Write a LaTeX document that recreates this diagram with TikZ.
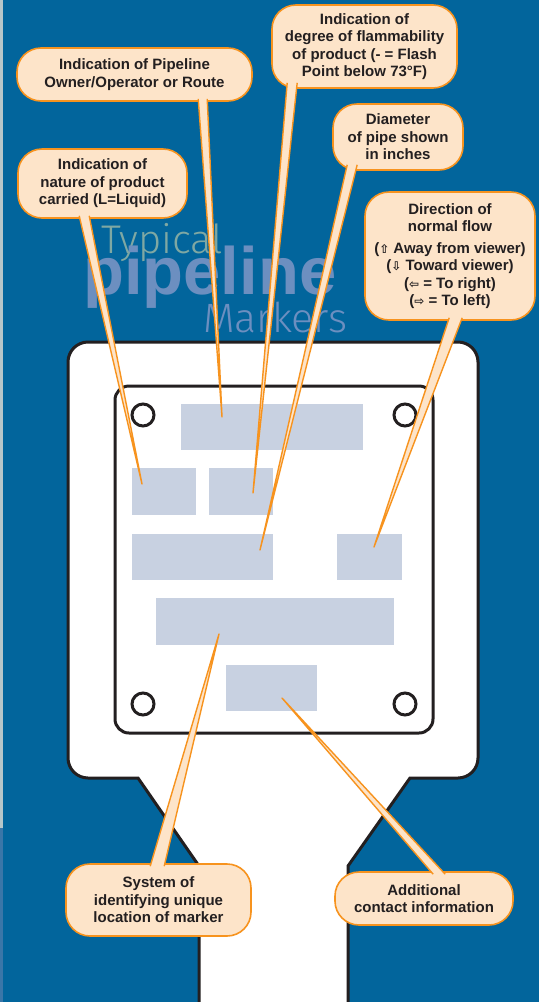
\documentclass[tikz,border=0pt]{standalone}
\usepackage{fontspec}
\setmainfont{Liberation Sans}
\newfontfamily\lightfont{Fira Sans}[UprightFont={* Light}]
\newfontfamily\symfont{DejaVu Sans}
\usetikzlibrary{calc}
\definecolor{bgblue}{HTML}{02659C}
\definecolor{stripgray}{HTML}{B6C6CA}
\definecolor{stripblue}{HTML}{3A76A8}
\definecolor{typcol}{HTML}{7FA8A3}
\definecolor{pipecol}{HTML}{6C8FC0}
\definecolor{calloutfill}{HTML}{FDE4C9}
\definecolor{calloutorange}{HTML}{F7931E}
\definecolor{textdark}{HTML}{231F20}
\definecolor{fieldgray}{HTML}{C8D1E1}
\newcommand{\flowarrow}[1]{{\symfont\fontsize{12}{12}\selectfont #1}}
\tikzset{
  signline/.style={draw=textdark, line width=3pt},
  field/.style={fill=fieldgray},
  callout/.style={draw=calloutorange, fill=calloutfill, line width=1.6pt, rounded corners=24pt,
    align=center, font=\bfseries\fontsize{15}{17.5}\selectfont, text=textdark, inner sep=0pt},
  pointer/.style={fill=calloutfill, draw=calloutorange, line width=1.4pt, line join=round},
  titlepart/.style={anchor=base west, inner sep=0pt}
}
\begin{document}
\begin{tikzpicture}[x=1pt,y=-1pt]
\useasboundingbox (0,0) rectangle (539,1002);
\fill[bgblue] (0,0) rectangle (539,1002);
\fill[stripgray] (0,0) rectangle (3,828);
\fill[stripblue] (0,828) rectangle (3,1002);

% title
\node[titlepart, text=typcol, font=\lightfont\fontsize{40}{40}\selectfont] (t1) at (101,253) {Typical};
\node[titlepart, text=pipecol, font=\bfseries\fontsize{67}{67}\selectfont] (t2) at (83,294) {pipeline};
\node[titlepart, text=pipecol, font=\lightfont\fontsize{41}{41}\selectfont] (t3) at (203,332) {Markers};

% sign
\filldraw[signline, fill=white] (199,1012) -- (199,866) -- (138,778) -- (88,778)
  .. controls (77,778) and (68,769) .. (68,758) -- (68,362)
  .. controls (68,351) and (77,342) .. (88,342) -- (458,342)
  .. controls (469,342) and (478,351) .. (478,362) -- (478,758)
  .. controls (478,769) and (469,778) .. (458,778) -- (410,778) -- (348,866) -- (348,1012);
\draw[signline, rounded corners=14pt] (115,386) rectangle (433,733);

% fields
\fill[field] (181,404) rectangle (363,450);
\fill[field] (132,468) rectangle (196,515);
\fill[field] (209,468) rectangle (273,515);
\fill[field] (132,534) rectangle (273,580);
\fill[field] (337,534) rectangle (402,580);
\fill[field] (156,598) rectangle (394,645);
\fill[field] (226,665) rectangle (317,711);

% holes
\foreach \cx/\cy in {143/415, 405/415, 143/704, 405/704}
  \draw[signline, fill=white] (\cx,\cy) circle[radius=11];

% pointer tips
\coordinate (tA) at (222,417);
\coordinate (tB) at (142,484);
\coordinate (tC) at (253,493);
\coordinate (tD) at (260,550);
\coordinate (tE) at (374,547);
\coordinate (tF) at (219,634);
\coordinate (tG) at (282,698);

% callouts
\node[callout, minimum width=235pt, minimum height=53pt] (A) at (134.5,74.5)
  {Indication of Pipeline\\Owner/Operator or Route};
\node[callout, minimum width=169pt, minimum height=69pt] (B) at (102.5,183.5)
  {Indication of\\nature of product\\carried (L=Liquid)};
\node[callout, minimum width=185pt, minimum height=83pt] (C) at (364.5,46.5)
  {Indication of\\degree of flammability\\of product (- = Flash\\Point below 73°F)};
\node[callout, minimum width=130pt, minimum height=66pt] (D) at (398,137)
  {Diameter\\of pipe shown\\in inches};
\node[callout, minimum width=170pt, minimum height=128pt] (E) at (450,256)
  {Direction of\\normal flow\\[4pt]
   (\flowarrow{⇧} Away from viewer)\\
   (\flowarrow{⇩} Toward viewer)\\
   (\flowarrow{⇦} = To right)\\
   (\flowarrow{⇨} = To left)};
\node[callout, minimum width=185pt, minimum height=72pt] (F) at (158.5,900)
  {System of\\identifying unique\\location of marker};
\node[callout, minimum width=178pt, minimum height=53pt] (G) at (424,898.5)
  {Additional\\contact information};

% pointers
\path[pointer] ($(A.south west)+(182,-3)$) -- (tA) -- ($(A.south west)+(191,-3)$);
\path[pointer] ($(B.south west)+(62,-3)$) -- (tB) -- ($(B.south west)+(72,-3)$);
\path[pointer] ($(C.south west)+(16,-6)$) -- (tC) -- ($(C.south west)+(26,-6)$);
\path[pointer] ($(D.south west)+(15,-6)$) -- (tD) -- ($(D.south west)+(25,-6)$);
\path[pointer] ($(E.south west)+(85,-3)$) -- (tE) -- ($(E.south west)+(98,-3)$);
\path[pointer] ($(F.north west)+(85,3)$) -- (tF) -- ($(F.north west)+(99,3)$);
\path[pointer] ($(G.north west)+(99,3)$) -- (tG) -- ($(G.north west)+(111,3)$);
\end{tikzpicture}
\end{document}
